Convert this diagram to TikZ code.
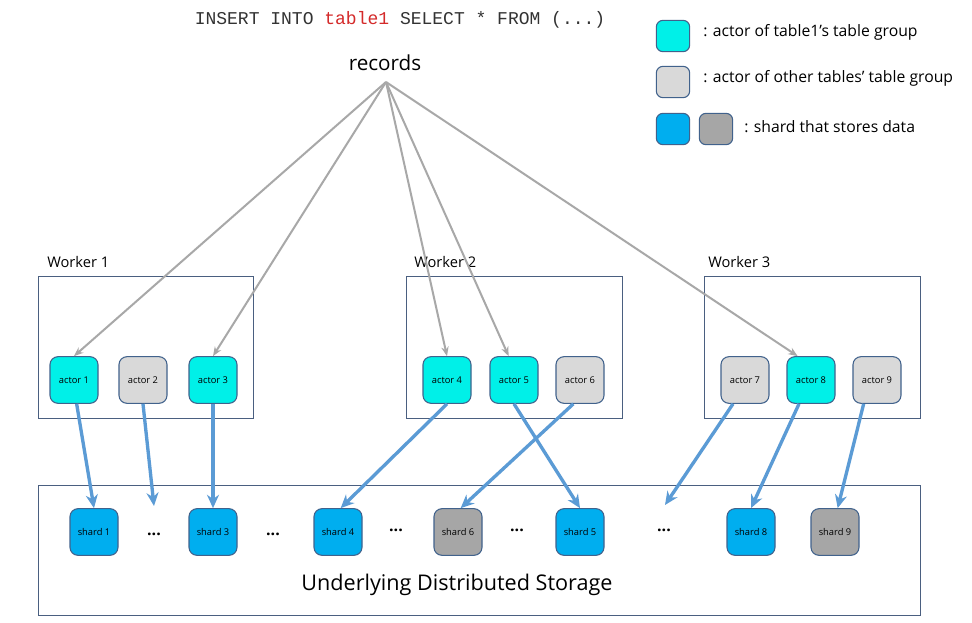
\documentclass[tikz,border=0pt]{standalone}
\usepackage{fontspec}
\setmainfont{Open Sans}
\newfontfamily\monof{Liberation Mono}
\usetikzlibrary{arrows.meta,calc}
\definecolor{cyanfill}{HTML}{00F0E8}
\definecolor{grayfill}{HTML}{D9D9D9}
\definecolor{shardblue}{HTML}{00AEEF}
\definecolor{shardgray}{HTML}{A6A6A6}
\definecolor{nodeborder}{HTML}{41628C}
\definecolor{boxborder}{HTML}{4A5F80}
\definecolor{bluearrow}{HTML}{5B9BD5}
\definecolor{grayarrow}{HTML}{A8A8A8}
\definecolor{sqlred}{HTML}{D42A2A}
\begin{document}
\begin{tikzpicture}[x=0.75pt,y=-0.75pt,
  actorbox/.style={draw=nodeborder, line width=0.8pt, rounded corners=6pt, minimum width=36pt, minimum height=35pt, inner sep=0pt, font=\fontsize{7}{8}\selectfont},
  cyanactor/.style={actorbox, fill=cyanfill},
  grayactor/.style={actorbox, fill=grayfill},
  blueshard/.style={actorbox, fill=shardblue},
  grayshard/.style={actorbox, fill=shardgray},
  legbox/.style={draw=nodeborder, line width=0.8pt, rounded corners=5pt, minimum width=25pt, minimum height=23.5pt, inner sep=0pt},
  container/.style={draw=boxborder, line width=0.7pt, inner sep=0pt},
  workerlabel/.style={anchor=west, inner sep=0pt, font=\fontsize{11}{13}\selectfont},
  feed/.style={draw=grayarrow, line width=1.5pt, -{Stealth[length=7pt,width=5.5pt]}},
  store/.style={draw=bluearrow, line width=2.5pt, -{Stealth[length=10pt,width=9pt]}},
  dots/.style={inner sep=0pt, font=\bfseries\fontsize{12}{14}\selectfont},
  legtext/.style={anchor=west, inner sep=0pt, font=\fontsize{11.8}{14}\selectfont},
]
\useasboundingbox[fill=white] (0,0) rectangle (972,622);

% title and source
\node[inner sep=0pt, font=\monof\fontsize{13.5}{15}\selectfont, text=black!80] (sql) at (400,20) {INSERT INTO \textcolor{sqlred}{table1} SELECT * FROM (...)};
\node[inner sep=0pt, font=\fontsize{15.5}{18}\selectfont] (rec) at (385,63) {records};
\coordinate (src) at (386,82);

% legend
\node[legbox, fill=cyanfill] (lg1) at (673,36) {};
\node[legtext] (lt1) at (703,32) {: actor of table1’s table group};
\node[legbox, fill=grayfill] (lg2) at (673,82) {};
\node[legtext] (lt2) at (703,78) {: actor of other tables’ table group};
\node[legbox, fill=shardblue] (lg3) at (673,129) {};
\node[legbox, fill=shardgray] (lg4) at (716,129) {};
\node[legtext] (lt3) at (744,127) {: shard that stores data};

% workers
\node[container, minimum width=161.25pt, minimum height=106.5pt] (w1) at (145.5,347) {};
\node[container, minimum width=162pt, minimum height=106.5pt] (w2) at (514,347) {};
\node[container, minimum width=162pt, minimum height=106.5pt] (w3) at (812,347) {};
\node[workerlabel] (w1l) at (47,262) {Worker 1};
\node[workerlabel] (w2l) at (414,262) {Worker 2};
\node[workerlabel] (w3l) at (708,262) {Worker 3};

% actors
\node[cyanactor] (a1) at (74,380) {actor 1};
\node[grayactor] (a2) at (143,380) {actor 2};
\node[cyanactor] (a3) at (213,380) {actor 3};
\node[cyanactor] (a4) at (447,380) {actor 4};
\node[cyanactor] (a5) at (514,380) {actor 5};
\node[grayactor] (a6) at (580,380) {actor 6};
\node[grayactor] (a7) at (745,380) {actor 7};
\node[cyanactor] (a8) at (811,380) {actor 8};
\node[grayactor] (a9) at (877,380) {actor 9};

% storage
\node[container, minimum width=661.5pt, minimum height=97.5pt] (st) at (479,550) {};
\node[inner sep=0pt, font=\fontsize{16.2}{19}\selectfont] (stl) at (457,585) {Underlying Distributed Storage};

% shards
\node[blueshard] (s1) at (94,532) {shard 1};
\node[dots] (d1) at (154,534) {...};
\node[blueshard] (s3) at (213,532) {shard 3};
\node[dots] (d2) at (273,534) {...};
\node[blueshard] (s4) at (338,532) {shard 4};
\node[dots] (d3) at (396,530) {...};
\node[grayshard] (s6) at (458,532) {shard 6};
\node[dots] (d4) at (517,530) {...};
\node[blueshard] (s5) at (580,532) {shard 5};
\node[dots] (d5) at (664,530) {...};
\node[blueshard] (s8) at (751,532) {shard 8};
\node[grayshard] (s9) at (835,532) {shard 9};
\coordinate (d1t) at (154,506);
\coordinate (d5t) at (665,505);

% record feeds
\draw[feed] (src) -- (a1.north);
\draw[feed] (src) -- (a3.north);
\draw[feed] (src) -- (a4.north);
\draw[feed] (src) -- ([xshift=-4pt]a5.north);
\draw[feed] (src) -- ([xshift=-10pt]a8.north);

% storing
\draw[store] ([xshift=2pt]a1.south) -- (s1.north);
\draw[store] (a2.south) -- (d1t);
\draw[store] (a3.south) -- (s3.north);
\draw[store] (a4.south) -- ([xshift=2pt]s4.north);
\draw[store] (a5.south) -- (s5.north);
\draw[store] ([xshift=-5pt]a6.south) -- ([xshift=2pt]s6.north);
\draw[store] ([xshift=-9pt]a7.south) -- (d5t);
\draw[store] ([xshift=-9pt]a8.south) -- (s8.north);
\draw[store] ([xshift=-10pt]a9.south) -- ([xshift=2pt]s9.north);
\end{tikzpicture}
\end{document}
